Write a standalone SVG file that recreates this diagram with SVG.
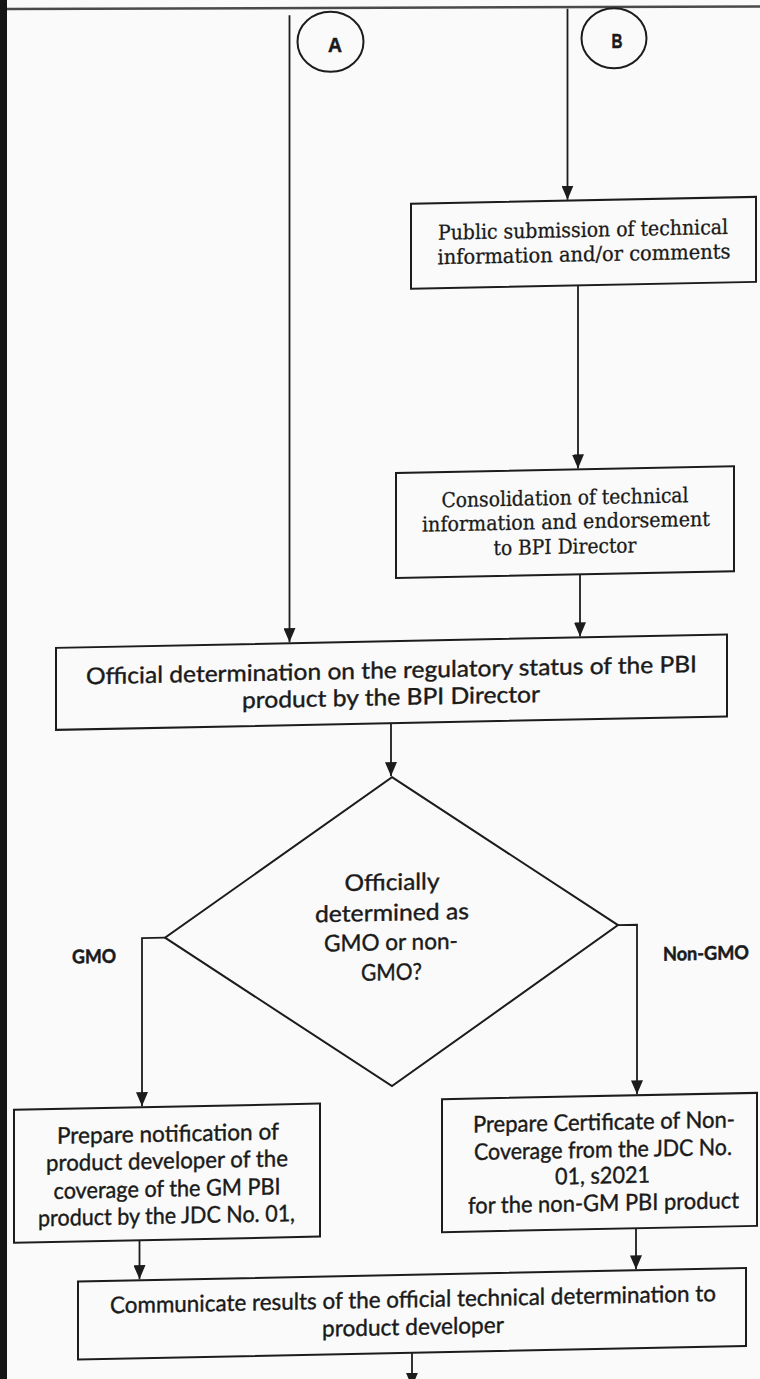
<svg xmlns="http://www.w3.org/2000/svg" width="760" height="1379" viewBox="0 0 760 1379">
<style>
.box{fill:none;stroke:#1c1c1c;stroke-width:2}
.ln{fill:none;stroke:#1c1c1c;stroke-width:1.8}
.serif{font-family:"DejaVu Serif","Liberation Serif",serif;font-size:20.5px;fill:#1a1a1a;stroke:#1a1a1a;stroke-width:0.3;text-anchor:middle}
.sans{font-family:Lato,"Liberation Sans",sans-serif;font-size:23px;fill:#1a1a1a;stroke:#1a1a1a;stroke-width:0.4;text-anchor:middle}
.lbl{font-family:Lato,"Liberation Sans",sans-serif;font-size:19px;font-weight:bold;fill:#1a1a1a;stroke:#1a1a1a;stroke-width:0.5;text-anchor:middle}
.circ{font-family:"Liberation Sans",Arial,sans-serif;font-size:20px;font-weight:bold;fill:#1a1a1a;stroke:#1a1a1a;stroke-width:0.5;text-anchor:middle}
</style>
<defs>
<marker id="ah" markerUnits="userSpaceOnUse" markerWidth="14" markerHeight="12" viewBox="0 0 14 12" refX="14" refY="6" orient="auto">
<path d="M0,0 L14,6 L0,12 z" fill="#1c1c1c"/>
</marker>
</defs>
<rect x="0" y="0" width="760" height="1379" fill="#fafafa"/>
<rect x="0" y="0" width="7" height="1379" fill="#151515"/>
<line x1="7" y1="9" x2="760" y2="6.5" stroke="#4a4a4a" stroke-width="2.5"/>

<g id="connector-A">
<ellipse class="box" cx="330.5" cy="41.7" rx="33" ry="30"/>
<text class="circ" x="335" y="51.5" textLength="14" lengthAdjust="spacingAndGlyphs">A</text>
</g>
<g id="connector-B">
<ellipse class="box" cx="614" cy="38.3" rx="32.5" ry="30"/>
<text class="circ" x="617" y="47.5" textLength="11" lengthAdjust="spacingAndGlyphs">B</text>
</g>

<g transform="matrix(1,-0.02,0,1,0,0)">
<g id="connectors">
<path class="ln" d="M289.5,21 V648" marker-end="url(#ah)"/>
<path class="ln" d="M567.5,20 V211" marker-end="url(#ah)"/>
<path class="ln" d="M578,297 V480" marker-end="url(#ah)"/>
<path class="ln" d="M580,586 V648" marker-end="url(#ah)"/>
<path class="ln" d="M391,731 V784" marker-end="url(#ah)"/>
<path class="ln" d="M165,941 H142 V1109" marker-end="url(#ah)"/>
<path class="ln" d="M618,937.5 H637 V1107" marker-end="url(#ah)"/>
<path class="ln" d="M139.5,1243 V1282" marker-end="url(#ah)"/>
<path class="ln" d="M636,1241 V1282" marker-end="url(#ah)"/>
<path class="ln" d="M412,1361 V1395" marker-end="url(#ah)"/>
<text class="lbl" x="94" y="965" textLength="44" lengthAdjust="spacingAndGlyphs">GMO</text>
<text class="lbl" x="706" y="974" textLength="86" lengthAdjust="spacingAndGlyphs">Non-GMO</text>
</g>

<g id="public-submission">
<rect class="box" x="411" y="212" width="345" height="85"/>
<text class="serif" x="583" y="248.5" textLength="290" lengthAdjust="spacingAndGlyphs">Public submission of technical</text>
<text class="serif" x="584" y="273" textLength="293" lengthAdjust="spacingAndGlyphs">information and/or comments</text>
</g>

<g id="consolidation">
<rect class="box" x="396" y="481" width="338" height="105"/>
<text class="serif" x="565" y="516" textLength="247" lengthAdjust="spacingAndGlyphs">Consolidation of technical</text>
<text class="serif" x="566" y="540" textLength="288" lengthAdjust="spacingAndGlyphs">information and endorsement</text>
<text class="serif" x="565" y="565" textLength="143" lengthAdjust="spacingAndGlyphs">to BPI Director</text>
</g>

<g id="official-determination">
<rect class="box" x="56" y="649" width="671" height="82"/>
<text class="sans" x="391.5" y="686" textLength="611" lengthAdjust="spacingAndGlyphs">Official determination on the regulatory status of the PBI</text>
<text class="sans" x="391" y="713" textLength="298" lengthAdjust="spacingAndGlyphs">product by the BPI Director</text>
</g>

<g id="decision">
<polygon class="box" points="392,785 618,937.5 392,1094 165,941"/>
<text class="sans" x="392" y="898" textLength="95" lengthAdjust="spacingAndGlyphs">Officially</text>
<text class="sans" x="392" y="928.5" textLength="154" lengthAdjust="spacingAndGlyphs">determined as</text>
<text class="sans" x="391" y="958" textLength="134" lengthAdjust="spacingAndGlyphs">GMO or non-</text>
<text class="sans" x="391.5" y="988" textLength="61" lengthAdjust="spacingAndGlyphs">GMO?</text>
</g>

<g id="notification">
<rect class="box" x="14" y="1110" width="306" height="133"/>
<text class="sans" x="168" y="1145" textLength="222" lengthAdjust="spacingAndGlyphs">Prepare notification of</text>
<text class="sans" x="167" y="1172" textLength="242" lengthAdjust="spacingAndGlyphs">product developer of the</text>
<text class="sans" x="167" y="1200" textLength="227" lengthAdjust="spacingAndGlyphs">coverage of the GM PBI</text>
<text class="sans" x="166.5" y="1227" textLength="257" lengthAdjust="spacingAndGlyphs">product by the JDC No. 01,</text>
</g>

<g id="certificate">
<rect class="box" x="442" y="1108" width="315" height="133"/>
<text class="sans" x="604" y="1142" textLength="262" lengthAdjust="spacingAndGlyphs">Prepare Certificate of Non-</text>
<text class="sans" x="603" y="1169.5" textLength="258" lengthAdjust="spacingAndGlyphs">Coverage from the JDC No.</text>
<text class="sans" x="602.5" y="1195.5" textLength="95" lengthAdjust="spacingAndGlyphs">01, s2021</text>
<text class="sans" x="603.5" y="1223" textLength="271" lengthAdjust="spacingAndGlyphs">for the non-GM PBI product</text>
</g>

<g id="communicate">
<rect class="box" x="78" y="1283" width="668" height="78"/>
<text class="sans" x="413" y="1315.5" textLength="606" lengthAdjust="spacingAndGlyphs">Communicate results of the official technical determination to</text>
<text class="sans" x="413" y="1343" textLength="182" lengthAdjust="spacingAndGlyphs">product developer</text>
</g>
</g>
</svg>
